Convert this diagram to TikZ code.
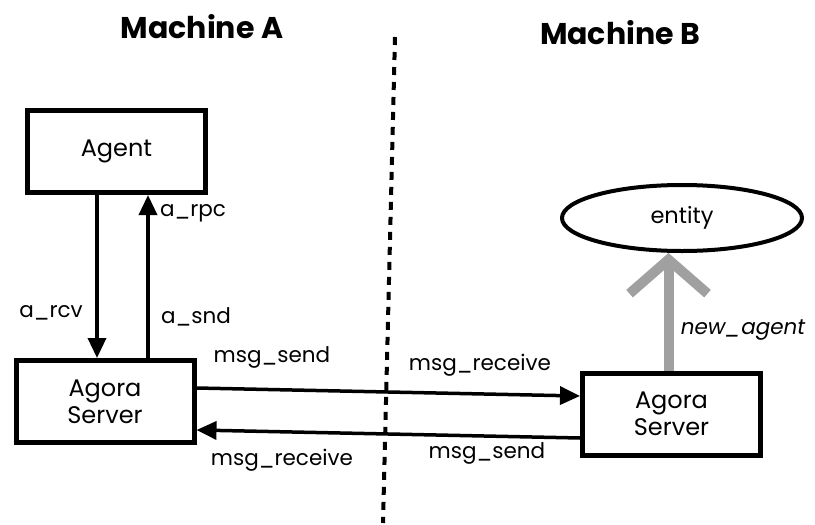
\documentclass[tikz,border=0pt]{standalone}
\usepackage{fontspec}
\setmainfont{Poppins}
\usepackage{tikz}
\usetikzlibrary{arrows.meta, positioning, calc, shapes.geometric}
\definecolor{grisito}{RGB}{160,160,160}
\tikzset{>={Triangle[length=20pt,width=18pt]}}
\tikzset{
  box/.style={draw, line width=5pt, minimum width=178pt, minimum height=82pt, font=\fontsize{24}{27}\selectfont, align=center},
  lbl/.style={font=\fontsize{21.5}{24}\selectfont, inner sep=0pt},
  conn/.style={->, line width=3.5pt},
}

\begin{document}
\begin{tikzpicture}[x=1pt, y=-1pt]
        \useasboundingbox (0,0) rectangle (815,525);
        % titles
        \node[font=\bfseries\fontsize{30}{32}\selectfont] (titA) at (202,27) {Machine A};
        \node[font=\bfseries\fontsize{30}{32}\selectfont] (titB) at (620,33) {Machine B};
        % divider between the machines
        \coordinate (divtop) at (395,37);
        \coordinate (divbot) at (383,523);
        \draw[line width=4pt, dash pattern=on 8pt off 7pt] (divtop) -- (divbot);
        % machine A
        \node[box] (agent) at (116.5,151.5) {Agent};
        \node[box] (srvA) at (105,401.5) {Agora\\Server};
        \draw[conn] ([xshift=-19.5pt]agent.south) -- ([xshift=-19.5pt]agent.south |- srvA.north);
        \draw[conn] ([xshift=31.5pt]agent.south |- srvA.north) -- ([xshift=31.5pt]agent.south);
        \node[lbl] (rpc) at (193,213) {a\_rpc};
        \node[lbl] (rcv) at (51,313) {a\_rcv};
        \node[lbl] (snd) at (196,317) {a\_snd};
        % machine B
        \node[box] (srvB) at (671.5,414) {Agora\\Server};
        \node[draw, ellipse, line width=4pt, minimum width=240pt, minimum height=66pt, inner sep=0pt,
              font=\fontsize{22.5}{25}\selectfont] (ent) at (682,218) {entity};
        \draw[line width=10pt, grisito, -{Straight Barb[length=34pt, width=78pt, line width=10pt]}]
          ([xshift=-3pt]srvB.north) -- ([xshift=-3pt]srvB.north |- ent.south);
        \node[lbl, font=\itshape\fontsize{21.5}{24}\selectfont] (newag) at (743,330) {new\_agent};
        % messages between the servers
        \draw[conn] ([yshift=13.5pt]srvA.east) -- ([yshift=18pt]srvB.west);
        \draw[conn] ([yshift=-24pt]srvB.west) -- ([yshift=-28.5pt]srvA.east);
        \node[lbl] (sndA) at (272,357) {msg\_send};
        \node[lbl] (rcvB) at (480,365) {msg\_receive};
        \node[lbl] (rcvA) at (282,460) {msg\_receive};
        \node[lbl] (sndB) at (487,453) {msg\_send};
\end{tikzpicture}
\end{document}
